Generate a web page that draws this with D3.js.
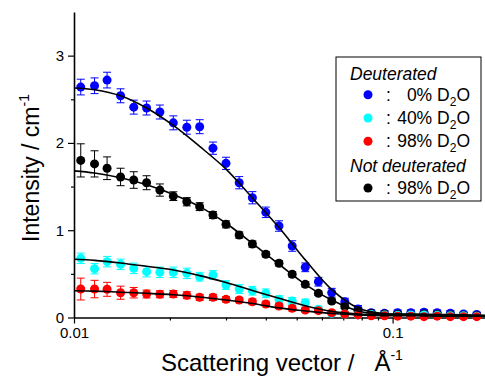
<!DOCTYPE html>
<html>
<head>
<meta charset="utf-8">
<script src="https://cdn.jsdelivr.net/npm/d3@7"></script>
<style>
  body { margin: 0; background: #fff; }
  text { font-family: "Liberation Sans", Arial, sans-serif; fill: #000; }
</style>
</head>
<body>
<svg id="chart" width="485" height="378"></svg>
<script>
// scattering vector (1/A) for every measured point
var q = [0.0105, 0.0116, 0.0127, 0.0140, 0.0154, 0.0169, 0.0186, 0.0205, 0.0226, 0.0248,
         0.0273, 0.0300, 0.0330, 0.0363, 0.0400, 0.0440, 0.0484, 0.0532, 0.0585, 0.0644,
         0.0708, 0.0779, 0.0857, 0.0943, 0.1037, 0.1141, 0.1255, 0.1380, 0.1518, 0.1670, 0.1837];

// deuterated, 0% D2O
var d0 = [2.64, 2.655, 2.72, 2.54, 2.41, 2.40, 2.354, 2.23, 2.18, 2.186,
          1.94, 1.766, 1.544, 1.372, 1.205, 1.048, 0.819, 0.575, 0.41, 0.284,
          0.181, 0.097, 0.055, 0.048, 0.055, 0.055, 0.06, 0.055, 0.05, 0.04, 0.035];
var d0Err = [0.09, 0.09, 0.09, 0.08, 0.08, 0.08, 0.08, 0.08, 0.08, 0.08,
             0.07, 0.07, 0.07, 0.07, 0.06, 0.06, 0.06, 0.05, 0.05, 0.05,
             0.04, 0.04, 0.03, 0.03, 0.03, 0.03, 0.03, 0.03, 0.03, 0.02, 0.02];

// deuterated, 40% D2O
var d40 = [0.678, 0.559, 0.64, 0.609, 0.563, 0.525, 0.518, 0.518, 0.506, 0.467,
           0.487, 0.372, 0.326, 0.307, 0.277, 0.208, 0.19, 0.17, 0.094, 0.048,
           0.04, 0.03, 0.035, 0.03, 0.025, 0.03, 0.03, 0.025, 0.02, 0.02, 0.015];
var d40Err = [0.06, 0.06, 0.06, 0.06, 0.06, 0.06, 0.06, 0.06, 0.06, 0.05,
              0.05, 0.05, 0.05, 0.05, 0.05, 0.04, 0.04, 0.04, 0.03, 0.03,
              0.03, 0.03, 0.02, 0.02, 0.02, 0.02, 0.02, 0.02, 0.02, 0.02, 0.02];

// deuterated, 98% D2O
var d98 = [0.326, 0.326, 0.323, 0.284, 0.284, 0.269, 0.266, 0.269, 0.255, 0.231,
           0.231, 0.208, 0.2, 0.181, 0.155, 0.132, 0.105, 0.086, 0.078, 0.055,
           0.04, 0.03, 0.02, 0.02, 0.015, 0.015, 0.01, 0.015, 0.01, 0.01, 0.01];
var d98Err = [0.125, 0.1, 0.08, 0.075, 0.06, 0.045, 0.04, 0.04, 0.04, 0.035,
              0.035, 0.03, 0.03, 0.03, 0.03, 0.03, 0.03, 0.025, 0.025, 0.02,
              0.02, 0.02, 0.02, 0.02, 0.02, 0.02, 0.02, 0.02, 0.02, 0.02, 0.02];

// not deuterated, 98% D2O
var h98 = [1.80, 1.76, 1.71, 1.61, 1.575, 1.544, 1.46, 1.39, 1.326, 1.27,
           1.174, 1.067, 0.945, 0.842, 0.724, 0.621, 0.495, 0.38, 0.277, 0.189,
           0.124, 0.078, 0.045, 0.04, 0.035, 0.03, 0.04, 0.035, 0.03, 0.025, 0.02];
var h98Err = [0.19, 0.15, 0.13, 0.1, 0.095, 0.08, 0.07, 0.05, 0.047, 0.045,
              0.04, 0.04, 0.035, 0.035, 0.03, 0.03, 0.03, 0.03, 0.025, 0.025,
              0.02, 0.02, 0.02, 0.02, 0.02, 0.02, 0.02, 0.02, 0.02, 0.02, 0.02];

// fitted curves
var fitQ = [0.01, 0.0116, 0.0140, 0.0169, 0.0205, 0.0248, 0.0300, 0.0363, 0.0440,
            0.0532, 0.0644, 0.0779, 0.0943, 0.1141, 0.1380, 0.1670, 0.195];
var d0Fit  = [2.63, 2.61, 2.54, 2.40, 2.20, 1.96, 1.70, 1.37, 1.03,
              0.66, 0.32, 0.11, 0.045, 0.04, 0.035, 0.03, 0.025];
var d40Fit = [0.667, 0.655, 0.625, 0.587, 0.545, 0.48, 0.40, 0.31, 0.22,
              0.135, 0.07, 0.04, 0.03, 0.03, 0.025, 0.02, 0.02];
var d98Fit = [0.307, 0.302, 0.29, 0.277, 0.26, 0.235, 0.20, 0.16, 0.11,
              0.075, 0.045, 0.03, 0.02, 0.02, 0.015, 0.015, 0.015];
var h98Fit = [1.68, 1.655, 1.60, 1.52, 1.41, 1.27, 1.08, 0.85, 0.61,
              0.38, 0.20, 0.075, 0.04, 0.035, 0.03, 0.025, 0.02];

var xMajor = [0.01, 0.1];
var xMinor = [0.02, 0.03, 0.04, 0.05, 0.06, 0.07, 0.08, 0.09];
var yMajor = [0, 1, 2, 3];
var yMinor = [0.5, 1.5, 2.5];

var series = [
  { name: "0%",  vals: d0,  err: d0Err,  fit: d0Fit,  color: "#0000ff" },
  { name: "98%", vals: h98, err: h98Err, fit: h98Fit, color: "#000000" },
  { name: "40%", vals: d40, err: d40Err, fit: d40Fit, color: "#00ffff" },
  { name: "98%", vals: d98, err: d98Err, fit: d98Fit, color: "#ff0000" }
];

var svg = d3.select("#chart");

var x = d3.scaleLog().domain([0.01, 0.195]).range([74, 485]);
var y = d3.scaleLinear().domain([0, 3.5]).range([317.5, 12]);

// axes
svg.append("g").attr("transform", "translate(0,317.5)")
    .call(d3.axisBottom(x).tickValues(xMajor).tickFormat(d3.format("")).tickSize(6).tickSizeOuter(0).tickPadding(4));
svg.append("g").attr("transform", "translate(0,317.5)")
    .call(d3.axisBottom(x).tickValues(xMinor).tickFormat("").tickSize(3).tickSizeOuter(0))
    .select(".domain").remove();

svg.append("g").attr("transform", "translate(74,0)")
    .call(d3.axisLeft(y).tickValues(yMajor).tickFormat(d3.format("d")).tickSize(6).tickSizeOuter(0).tickPadding(4));
svg.append("g").attr("transform", "translate(74,0)")
    .call(d3.axisLeft(y).tickValues(yMinor).tickFormat("").tickSize(3).tickSizeOuter(0))
    .select(".domain").remove();

svg.selectAll(".domain").attr("stroke-width", 1.6);
svg.selectAll(".tick line").attr("stroke-width", 1.2);
svg.selectAll(".tick text").attr("font-size", 15).attr("font-family", "Liberation Sans, Arial, sans-serif");

// error bars + points
series.forEach(function(s) {
  var g = svg.append("g");
  var pts = q.map(function(v, i) { return { q: v, v: s.vals[i], e: s.err[i] }; });

  g.selectAll("line.bar").data(pts).enter().append("line")
      .attr("x1", function(d) { return x(d.q); })
      .attr("x2", function(d) { return x(d.q); })
      .attr("y1", function(d) { return y(d.v + d.e); })
      .attr("y2", function(d) { return y(d.v - d.e); })
      .attr("stroke", s.color).attr("stroke-width", 1);
  [1, -1].forEach(function(sign) {
    g.selectAll(null).data(pts).enter().append("line")
        .attr("x1", function(d) { return x(d.q) - 4; })
        .attr("x2", function(d) { return x(d.q) + 4; })
        .attr("y1", function(d) { return y(d.v + sign * d.e); })
        .attr("y2", function(d) { return y(d.v + sign * d.e); })
        .attr("stroke", s.color).attr("stroke-width", 1);
  });

  g.selectAll("circle").data(pts).enter().append("circle")
      .attr("cx", function(d) { return x(d.q); })
      .attr("cy", function(d) { return y(d.v); })
      .attr("r", 4.5)
      .attr("fill", s.color);
});

// fit lines on top
var line = d3.line()
    .x(function(d) { return x(d[0]); })
    .y(function(d) { return y(d[1]); })
    .curve(d3.curveCatmullRom.alpha(0.5));

series.forEach(function(s) {
  svg.append("path")
      .datum(fitQ.map(function(v, i) { return [v, s.fit[i]]; }))
      .attr("d", line)
      .attr("fill", "none")
      .attr("stroke", "#000")
      .attr("stroke-width", 1.6);
});

// axis titles
var yt = svg.append("text")
    .attr("transform", "translate(39,168) rotate(-90)")
    .attr("text-anchor", "middle")
    .attr("font-size", 23);
yt.append("tspan").text("Intensity / cm");
yt.append("tspan").attr("font-size", 14).attr("dy", -10).text("-1");

var xt = svg.append("text")
    .attr("x", 161).attr("y", 371)
    .attr("font-size", 24)
    .style("white-space", "pre");
xt.append("tspan").text("Scattering vector /   \u00C5");
xt.append("tspan").attr("font-size", 14).attr("dy", -11).text("-1");

// legend
svg.append("rect")
    .attr("x", 336).attr("y", 57).attr("width", 145).attr("height", 144)
    .attr("fill", "#fff").attr("stroke", "#000").attr("stroke-width", 1);

var headers = [{ label: "Deuterated", y: 80 }, { label: "Not deuterated", y: 171.7 }];
svg.selectAll("text.hdr").data(headers).enter().append("text")
    .attr("class", "hdr")
    .attr("x", 350).attr("y", function(d) { return d.y; })
    .attr("font-size", 17.5).attr("font-style", "italic")
    .text(function(d) { return d.label; });

var legendRows = [
  { s: series[0], y: 100.7 },
  { s: series[2], y: 124 },
  { s: series[3], y: 147.3 },
  { s: series[1], y: 194 }
];
legendRows.forEach(function(r) {
  svg.append("circle").attr("cx", 368).attr("cy", r.y - 6).attr("r", 4.5).attr("fill", r.s.color);
  svg.append("text").attr("x", 386).attr("y", r.y).attr("font-size", 17.5).text(":");
  var t = svg.append("text").attr("x", 470).attr("y", r.y)
      .attr("text-anchor", "end").attr("font-size", 17.5);
  t.append("tspan").text(r.s.name + " D");
  t.append("tspan").attr("font-size", 12).attr("dy", 5).text("2");
  t.append("tspan").attr("dy", -5).text("O");
});
</script>
</body>
</html>
